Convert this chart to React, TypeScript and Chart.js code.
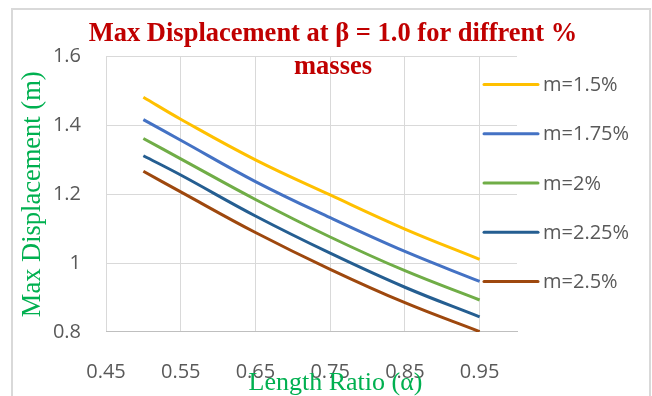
import React, { useEffect, useRef } from "react";
import { Chart, registerables } from "chart.js";

Chart.register(...registerables);

const alpha = [0.5, 0.55, 0.65, 0.75, 0.85, 0.95];
const m15 = [1.482, 1.418, 1.3, 1.198, 1.099, 1.011];
const m175 = [1.417, 1.357, 1.237, 1.132, 1.034, 0.947];
const m2 = [1.362, 1.303, 1.185, 1.076, 0.978, 0.893];
const m225 = [1.312, 1.256, 1.137, 1.029, 0.93, 0.844];
const m25 = [1.267, 1.207, 1.089, 0.982, 0.885, 0.801];

const seriesLabels = ["m=1.5%", "m=1.75%", "m=2%", "m=2.25%", "m=2.5%"];
const seriesValues = [m15, m175, m2, m225, m25];
const seriesColors = ["#FFC000", "#4472C4", "#70AD47", "#255E91", "#9E480E"];
const xTicks = [0.45, 0.55, 0.65, 0.75, 0.85, 0.95];

const titleLines = ["Max Displacement at \u03B2 = 1.0 for diffrent %", "masses"];
const xTitle = "Length Ratio (\u03B1)";
const yTitle = "Max Displacement (m)";

const sideLegend = {
  id: "sideLegend",
  afterDraw(chart: any) {
    const ctx = chart.ctx;
    const area = chart.chartArea;
    ctx.save();
    chart.data.datasets.forEach((ds: any, i: number) => {
      const y = area.top + 28 + i * 49.2;
      ctx.strokeStyle = ds.borderColor;
      ctx.lineWidth = 3;
      ctx.lineCap = "round";
      ctx.beginPath();
      ctx.moveTo(area.right - 33, y);
      ctx.lineTo(area.right + 21, y);
      ctx.stroke();
      ctx.fillStyle = "#595959";
      ctx.font = '20px "Open Sans"';
      ctx.textAlign = "left";
      ctx.textBaseline = "middle";
      ctx.fillText(ds.label, area.right + 26, y + 1);
    });
    // x axis title (offset to the right like the reference)
    ctx.fillStyle = "#00B050";
    ctx.font = '26px "Liberation Serif"';
    ctx.textAlign = "center";
    ctx.textBaseline = "middle";
    ctx.fillText(xTitle, (area.left + area.right) / 2 + 24, 383);
    ctx.restore();
  },
};

export default function App() {
  const ref = useRef<HTMLCanvasElement | null>(null);

  useEffect(() => {
    if (!ref.current) return;
    const chart = new Chart(ref.current, {
      type: "line",
      data: {
        datasets: seriesLabels.map((label, i) => ({
          label,
          data: alpha.map((a, j) => ({ x: a, y: seriesValues[i][j] })),
          borderColor: seriesColors[i],
          backgroundColor: seriesColors[i],
          borderWidth: 3,
          pointRadius: 0,
          tension: 0.4,
          fill: false,
        })),
      },
      options: {
        responsive: false,
        animation: false,
        devicePixelRatio: 1,
        layout: { padding: { left: 14, top: 0, right: 0, bottom: 0 } },
        plugins: {
          legend: { display: false },
          tooltip: { enabled: false },
          title: {
            display: true,
            text: titleLines,
            color: "#C00000",
            font: { family: '"Liberation Serif"', size: 26.5, weight: "bold", lineHeight: 1.23 },
            padding: { top: 18, bottom: -26.6 },
          },
        },
        scales: {
          x: {
            type: "linear",
            min: 0.45,
            max: 1.0,
            afterBuildTicks: (scale: any) => {
              scale.ticks = xTicks.map((v) => ({ value: v }));
            },
            afterFit: (scale: any) => {
              scale.height = 64;
            },
            ticks: {
              color: "#595959",
              font: { family: '"Open Sans"', size: 20 },
              padding: 28,
              maxRotation: 0,
              callback: (v: any) => Number(v).toFixed(2),
            },
            grid: { color: "#D9D9D9", lineWidth: 1, drawTicks: false },
            border: { display: true, color: "#BFBFBF", width: 1 },
          },
          y: {
            type: "linear",
            min: 0.8,
            max: 1.6,
            afterFit: (scale: any) => {
              scale.width = 92;
            },
            ticks: {
              stepSize: 0.2,
              color: "#595959",
              font: { family: '"Open Sans"', size: 20 },
              padding: 25,
              callback: (v: any) => String(Number(Number(v).toFixed(1))),
            },
            grid: { color: "#D9D9D9", lineWidth: 1, drawTicks: false },
            border: { display: false },
            title: {
              display: true,
              text: yTitle,
              color: "#00B050",
              font: { family: '"Liberation Serif"', size: 26.5, lineHeight: 1.2 },
              padding: { top: 3, bottom: 0 },
            },
          },
          yR: {
            type: "linear",
            position: "right",
            display: true,
            afterFit: (scale: any) => {
              scale.width = 135;
            },
            ticks: { display: false },
            grid: { display: false, drawTicks: false },
            border: { display: false },
          },
        },
      },
      plugins: [sideLegend],
    } as any);
    return () => chart.destroy();
  }, []);

  return (
    <div style={{ position: "absolute", left: 0, top: 0, width: 652, height: 396, overflow: "hidden", background: "#fff" }}>
      <div
        style={{
          position: "absolute",
          left: 11,
          top: 8,
          width: 636,
          height: 420,
          border: "2px solid #D9D9D9",
        }}
      />
      <canvas ref={ref} width={652} height={396} style={{ position: "absolute", left: 0, top: 0, display: "block" }} />
    </div>
  );
}
